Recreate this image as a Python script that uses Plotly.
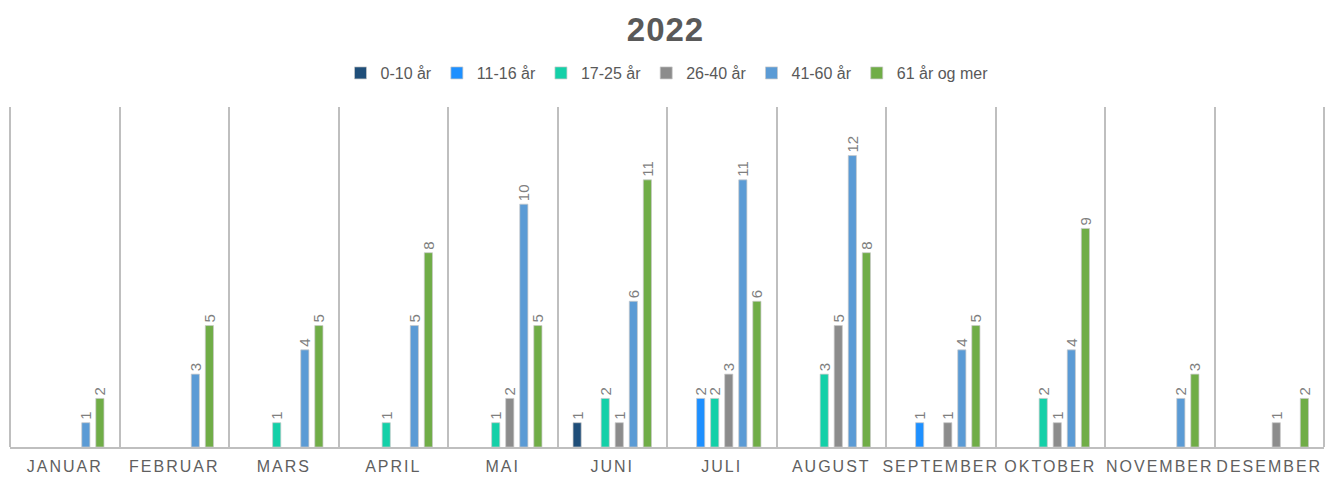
import plotly.graph_objects as go

months = ["JANUAR", "FEBRUAR", "MARS", "APRIL", "MAI", "JUNI", "JULI",
          "AUGUST", "SEPTEMBER", "OKTOBER", "NOVEMBER", "DESEMBER"]
series_names = ["0-10 år", "11-16 år", "17-25 år", "26-40 år", "41-60 år", "61 år og mer"]
age_0_10 = [None, None, None, None, None, 1, None, None, None, None, None, None]
age_11_16 = [None, None, None, None, None, None, 2, None, 1, None, None, None]
age_17_25 = [None, None, 1, 1, 1, 2, 2, 3, None, 2, None, None]
age_26_40 = [None, None, None, None, 2, 1, 3, 5, 1, 1, None, 1]
age_41_60 = [1, 3, 4, 5, 10, 6, 11, 12, 4, 4, 2, None]
age_61_plus = [2, 5, 5, 8, 5, 11, 6, 8, 5, 9, 3, 2]
colors = ["#1F4E79", "#1E90FF", "#14D0A8", "#8C8C8C", "#5B9BD5", "#70AD47"]

all_series = [age_0_10, age_11_16, age_17_25, age_26_40, age_41_60, age_61_plus]
FONT = "Liberation Sans, Arial"

fig = go.Figure()
for name, vals, col in zip(series_names, all_series, colors):
    fig.add_trace(go.Bar(
        x=months, y=vals, name=name,
        marker=dict(color=col, line=dict(color="rgba(200,200,200,0.9)", width=0.8)),
        text=[("" if v is None else str(v)) for v in vals],
        textposition="outside", textangle=-90, constraintext="none",
        textfont=dict(family=FONT, size=15, color="#7F7F7F"),
        cliponaxis=False,
    ))

fig.update_layout(
    width=1331, height=477,
    paper_bgcolor="white", plot_bgcolor="white",
    barmode="group", bargap=0.23, bargroupgap=0.42,
    title=dict(text="<b>2022</b>", x=0.5, xanchor="center", y=1 - 29 / 477, yref="container",
               yanchor="middle", font=dict(family=FONT, size=33, color="#595959")),
    legend=dict(orientation="h", x=0.5, xanchor="center", y=1 - 73 / 477, yanchor="middle",
                yref="container", font=dict(family=FONT, size=16, color="#595959"),
                itemwidth=30, traceorder="normal"),
    margin=dict(l=10, r=7, t=107, b=30, autoexpand=False),
    font=dict(family=FONT),
    shapes=[
        dict(type="line", xref="x domain", yref="y domain", x0=0, x1=0, y0=0, y1=1,
             line=dict(color="#BFBFBF", width=2), layer="below"),
        dict(type="line", xref="x domain", yref="y domain", x0=1, x1=1, y0=0, y1=1,
             line=dict(color="#BFBFBF", width=2), layer="below"),
    ],
)
fig.update_xaxes(
    tickson="boundaries", showgrid=True, gridcolor="#BFBFBF", gridwidth=2,
    showline=True, linecolor="#BFBFBF", linewidth=2, ticks="", automargin=False,
    tickfont=dict(family=FONT, size=16, color="#5F5F5F"), ticklabelstandoff=4,
    range=[-0.5, 11.5],
)
fig.update_yaxes(range=[0, 14], showgrid=False, showticklabels=False, zeroline=False,
                 showline=False, automargin=False)

post = """
document.body.style.margin='0';document.body.style.overflow='hidden';
var gd=document.getElementById('{plot_id}');
function ls(){
  gd.querySelectorAll('.xtick text').forEach(function(t){t.setAttribute('letter-spacing','2px');});
  gd.querySelectorAll('.gtitle').forEach(function(t){t.setAttribute('letter-spacing','1px');});
}
ls(); if(gd.on){gd.on('plotly_afterplot', ls);} setTimeout(ls, 50);
"""
fig.write_html("out.html", post_script=post, config={"displayModeBar": False})
